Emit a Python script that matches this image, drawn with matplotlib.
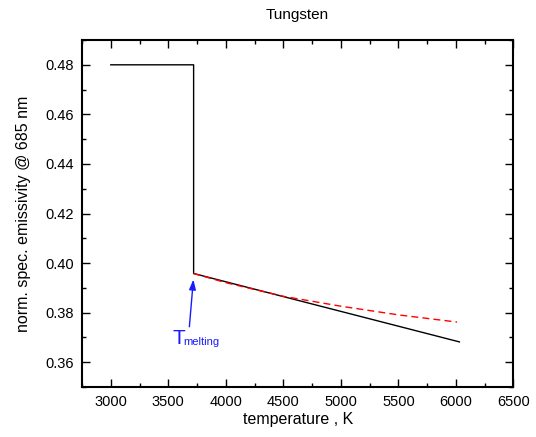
import numpy as np
import matplotlib
matplotlib.use('Agg')
import matplotlib.pyplot as plt
from matplotlib.ticker import MultipleLocator

plt.rcParams['font.family'] = ['Liberation Sans', 'DejaVu Sans']

# solid: measured emissivity, step at melting point then linear in liquid
temp_solid = [3000, 3720, 3720, 6030]
emis_solid = [0.480, 0.480, 0.3958, 0.3682]

# dashed: alternative liquid curve
temp_dash = [3720, 4000, 4500, 5000, 5500, 6010]
emis_dash = [0.3958, 0.3921, 0.3866, 0.3826, 0.3791, 0.3762]

# melting point arrow (tip, tail)
t_melt = 3718
arrow_tip = 0.3934
arrow_tail = (3683, 0.3743)

fig = plt.figure(figsize=(5.36, 4.37), dpi=100)
ax = fig.add_axes([0.153, 0.1144, 0.805, 0.794])

ax.plot(temp_solid, emis_solid, color='black', lw=1.0)
ax.plot(temp_dash, emis_dash, color='red', lw=1.0, ls=(0, (5, 3)))

ax.annotate('', xy=(t_melt, arrow_tip), xytext=arrow_tail,
            arrowprops=dict(arrowstyle='-|>,head_length=0.6,head_width=0.2', color='#1a1aff', lw=1.0,
                            mutation_scale=10, shrinkA=0, shrinkB=0))
ax.text(3540, 0.3735, 'T', color='#1a1aff', fontsize=15, va='top', ha='left')
ax.text(3630, 0.3702, 'melting', color='#1a1aff', fontsize=8, va='top', ha='left')

ax.set_xlim(2750, 6500)
ax.set_ylim(0.35, 0.49)
ax.xaxis.set_major_locator(MultipleLocator(500))
ax.xaxis.set_minor_locator(MultipleLocator(250))
ax.yaxis.set_major_locator(MultipleLocator(0.02))
ax.yaxis.set_minor_locator(MultipleLocator(0.01))
ax.yaxis.set_major_formatter(plt.FormatStrFormatter('%.2f'))
ax.tick_params(which='both', direction='in', top=True, right=True, labelsize=10.5, width=1.0)
ax.tick_params(which='major', length=5.5, pad=6)
ax.tick_params(which='minor', length=3)
for s in ax.spines.values():
    s.set_linewidth(1.5)

ax.set_xlabel('temperature , K', fontsize=11.5, labelpad=2)
ax.set_ylabel('norm. spec. emissivity @ 685 nm', fontsize=11.5, labelpad=10)
fig.text(0.555, 0.965, 'Tungsten', ha='center', va='center', fontsize=11)

fig.savefig('out.png', dpi=100)
